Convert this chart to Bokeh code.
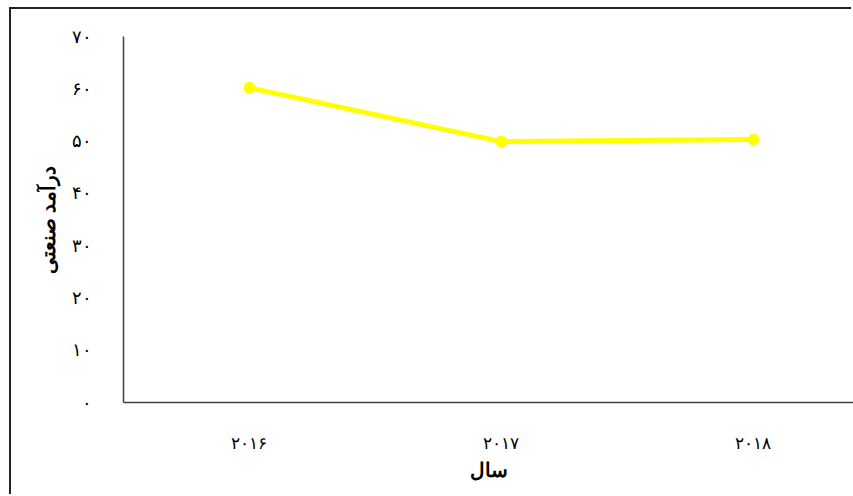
from bokeh.plotting import figure
from bokeh.layouts import column
from bokeh.models import Range1d, FixedTicker
from bokeh.embed import file_html
from bokeh.resources import INLINE

years = ["۲۰۱۶", "۲۰۱۷", "۲۰۱۸"]
income = [60.2, 49.9, 50.3]
y_ticks = [0, 10, 20, 30, 40, 50, 60, 70]
y_tick_labels = ["۰", "۱۰", "۲۰", "۳۰", "۴۰", "۵۰", "۶۰", "۷۰"]

xs = list(range(len(years)))

p = figure(width=842, height=487, output_backend="svg", toolbar_location=None,
           x_range=Range1d(-0.5, 2.397), y_range=Range1d(0, 70),
           min_border_left=112, min_border_right=0, min_border_top=27, min_border_bottom=94)
p.outline_line_color = None
p.xgrid.visible = False
p.ygrid.visible = False

p.line(xs, income, line_color="#FFFF00", line_width=5)
p.scatter(xs, income, size=11, fill_color="#FFFF00", line_color="#FFFF00")

font = "Liberation Serif"
p.xaxis.ticker = FixedTicker(ticks=xs)
p.xaxis.major_label_overrides = {i: y for i, y in enumerate(years)}
p.yaxis.ticker = FixedTicker(ticks=y_ticks)
p.yaxis.major_label_overrides = {t: l for t, l in zip(y_ticks, y_tick_labels)}

for ax in (p.xaxis[0], p.yaxis[0]):
    ax.axis_line_color = "#404040"
    ax.axis_line_width = 1.5
    ax.major_tick_line_color = None
    ax.minor_tick_line_color = None
    ax.major_label_text_font = font
    ax.major_label_text_color = "#000000"
    ax.axis_label_text_font = font
    ax.axis_label_text_font_style = "bold"
    ax.axis_label_text_color = "#000000"

p.xaxis.major_label_text_font_size = "17px"
p.xaxis.major_label_standoff = 25
p.xaxis.axis_label = "سال"
p.xaxis.axis_label_text_font_size = "20px"
p.xaxis.axis_label_standoff = 3

p.yaxis.major_label_text_font_size = "18px"
p.yaxis.major_label_standoff = 26
p.yaxis.axis_label = "درآمد صنعتی"
p.yaxis.axis_label_text_font_size = "20px"
p.yaxis.axis_label_standoff = 10

layout = column(p, margin=(9, 0, 0, 11),
                styles={"box-shadow": "-2px -2px 0px 0px #222222"})

open("out.html", "w").write(file_html(layout, INLINE))
